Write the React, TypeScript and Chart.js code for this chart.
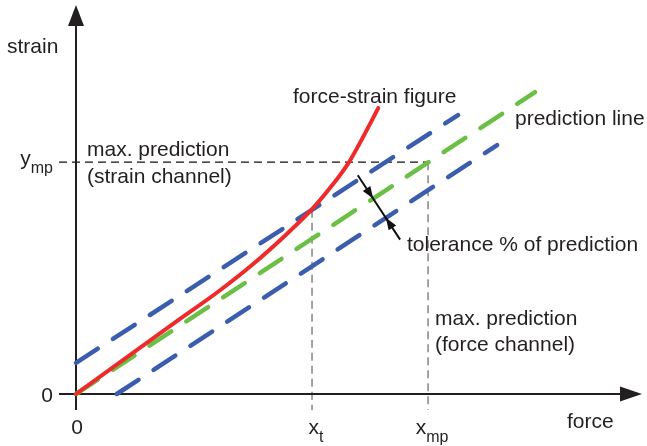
import React, { useEffect, useRef } from 'react';
import { Chart, registerables } from 'chart.js';

Chart.register(...registerables);

// ---- data (abstract units: force 0..10, strain 0..10) ----
const X_MAX = 10;
const Y_MAX = 10;

// force-strain figure (red curve)
const redX = [0, 1.77, 2.54, 3.13, 3.73, 4.17, 4.49, 4.81, 5.07, 5.34];
const redY = [0, 1.86, 2.66, 3.34, 4.12, 4.75, 5.3, 5.93, 6.6, 7.35];

// prediction line (green)
const predX = [0, 8.11];
const predY = [0, 7.76];

// tolerance band (blue)
const upperX = [0, 6.75];
const upperY = [0.8, 7.17];
const lowerX = [0.72, 7.44];
const lowerY = [0, 6.4];

// key values
const X_T = 4.17;
const X_MP = 6.22;
const Y_MP = 5.96;
const TOL_X = 5.25;

// tick labels [value, main, subscript]
const xTickValues = [0, X_T, X_MP];
const xTickMain = ['0', 'x', 'x'];
const xTickSub = ['', 't', 'mp'];
const yTickValues = [0, Y_MP];
const yTickMain = ['0', 'y'];
const yTickSub = ['', 'mp'];

// annotation texts
const notes = [
  'strain',
  'max. prediction',
  '(strain channel)',
  'force-strain figure',
  'prediction line',
  'tolerance % of prediction',
  'max. prediction',
  '(force channel)',
  'force',
];
const notePos = [
  [7, 53],
  [87, 156],
  [87, 183],
  [293, 103],
  [515, 125],
  [407, 251],
  [435, 325],
  [435, 351],
  [567, 428],
];

const RED = '#ee2a2a';
const BLUE = '#3a5dae';
const GREEN = '#6cbf45';
const INK = '#231f20';
const FONT = '"Liberation Sans", Arial, Helvetica, sans-serif';

const pts = (xs: number[], ys: number[]) => xs.map((x, i) => ({ x, y: ys[i] }));
const lineAt = (xs: number[], ys: number[], x: number) =>
  ys[0] + ((ys[1] - ys[0]) * (x - xs[0])) / (xs[1] - xs[0]);

const overlay = {
  id: 'overlay',
  beforeDatasetsDraw(chart: any) {
    const { ctx } = chart;
    const xs = chart.scales.x;
    const ys = chart.scales.y;
    const px = (v: number) => xs.getPixelForValue(v);
    const py = (v: number) => ys.getPixelForValue(v);
    const TICK_L = 17;
    const TICK_B = 16;
    ctx.save();
    // guides
    ctx.lineWidth = 1.2;
    ctx.setLineDash([8, 5]);
    ctx.strokeStyle = '#111';
    ctx.beginPath();
    ctx.moveTo(px(0) - TICK_L, py(Y_MP));
    ctx.lineTo(px(X_MP), py(Y_MP));
    ctx.stroke();
    ctx.strokeStyle = '#666';
    ctx.beginPath();
    ctx.moveTo(px(X_T), py(lineAt(upperX, upperY, X_T)));
    ctx.lineTo(px(X_T), py(0) + TICK_B);
    ctx.moveTo(px(X_MP), py(Y_MP));
    ctx.lineTo(px(X_MP), py(0) + TICK_B);
    ctx.stroke();
    ctx.setLineDash([]);
    // axes
    ctx.strokeStyle = INK;
    ctx.fillStyle = INK;
    ctx.lineWidth = 2;
    ctx.beginPath();
    ctx.moveTo(px(0) - TICK_L, py(0));
    ctx.lineTo(px(X_MAX) - 18, py(0));
    ctx.moveTo(px(0), py(0) + TICK_B);
    ctx.lineTo(px(0), py(Y_MAX) + 18);
    ctx.stroke();
    ctx.beginPath();
    ctx.moveTo(px(X_MAX), py(0));
    ctx.lineTo(px(X_MAX) - 22, py(0) - 7.5);
    ctx.lineTo(px(X_MAX) - 22, py(0) + 7.5);
    ctx.closePath();
    ctx.fill();
    ctx.beginPath();
    ctx.moveTo(px(0), py(Y_MAX));
    ctx.lineTo(px(0) - 8, py(Y_MAX) + 21);
    ctx.lineTo(px(0) + 8, py(Y_MAX) + 21);
    ctx.closePath();
    ctx.fill();
    ctx.restore();
  },
  afterDatasetsDraw(chart: any) {
    const { ctx } = chart;
    const xs = chart.scales.x;
    const ys = chart.scales.y;
    const px = (v: number) => xs.getPixelForValue(v);
    const py = (v: number) => ys.getPixelForValue(v);
    ctx.save();
    // tolerance arrow
    const g0 = { x: px(predX[0]), y: py(predY[0]) };
    const g1 = { x: px(predX[1]), y: py(predY[1]) };
    const gl = Math.hypot(g1.x - g0.x, g1.y - g0.y);
    const u = { x: (g1.x - g0.x) / gl, y: (g1.y - g0.y) / gl };
    const d = { x: -u.y, y: u.x };
    const A = { x: px(TOL_X), y: py(lineAt(predX, predY, TOL_X)) };
    const b0 = { x: px(lowerX[0]), y: py(lowerY[0]) };
    const b1 = { x: px(lowerX[1]), y: py(lowerY[1]) };
    const bd = { x: b1.x - b0.x, y: b1.y - b0.y };
    const cross = (a: any, b: any) => a.x * b.y - a.y * b.x;
    const t = cross({ x: b0.x - A.x, y: b0.y - A.y }, bd) / cross(d, bd);
    const B = { x: A.x + t * d.x, y: A.y + t * d.y };
    ctx.strokeStyle = '#111';
    ctx.fillStyle = '#111';
    ctx.lineWidth = 2;
    ctx.beginPath();
    ctx.moveTo(A.x - 28 * d.x, A.y - 28 * d.y);
    ctx.lineTo(B.x + 26 * d.x, B.y + 26 * d.y);
    ctx.stroke();
    const head = (tip: any, dir: number) => {
      const L = 12;
      const W = 4.5;
      const bx = tip.x - dir * L * d.x;
      const by = tip.y - dir * L * d.y;
      ctx.beginPath();
      ctx.moveTo(tip.x, tip.y);
      ctx.lineTo(bx + W * u.x, by + W * u.y);
      ctx.lineTo(bx - W * u.x, by - W * u.y);
      ctx.closePath();
      ctx.fill();
    };
    head(A, 1);
    head(B, -1);

    // texts
    ctx.fillStyle = INK;
    ctx.textBaseline = 'alphabetic';
    ctx.textAlign = 'left';
    const MAIN = `21px ${FONT}`;
    const SUB = `16px ${FONT}`;
    ctx.font = MAIN;
    notes.forEach((s, i) => ctx.fillText(s, notePos[i][0], notePos[i][1]));

    const measure = (m: string, s: string) => {
      ctx.font = MAIN;
      const wm = ctx.measureText(m).width;
      ctx.font = SUB;
      const ws = s ? ctx.measureText(s).width : 0;
      return [wm, ws];
    };
    const drawLabel = (m: string, s: string, left: number, base: number) => {
      const [wm] = measure(m, s);
      ctx.font = MAIN;
      ctx.fillText(m, left, base);
      if (s) {
        ctx.font = SUB;
        ctx.fillText(s, left + wm, base + 8);
      }
    };
    // x ticks
    xTickValues.forEach((v, i) => {
      const [wm, ws] = measure(xTickMain[i], xTickSub[i]);
      const w = wm + ws;
      const shift = xTickSub[i] ? 4 : 1;
      drawLabel(xTickMain[i], xTickSub[i], px(v) - w / 2 + shift, py(0) + 40);
    });
    // y ticks
    yTickValues.forEach((v, i) => {
      const [wm, ws] = measure(yTickMain[i], yTickSub[i]);
      const w = wm + ws;
      const base = yTickSub[i] ? py(v) + 3 : py(v) + 7.5;
      drawLabel(yTickMain[i], yTickSub[i], px(0) - 23 - w, base);
    });
    ctx.restore();
  },
};

export default function App() {
  const ref = useRef<HTMLCanvasElement>(null);
  useEffect(() => {
    if (!ref.current) return;
    const dash = [26, 18];
    const chart = new Chart(ref.current, {
      type: 'line',
      data: {
        datasets: [
          {
            label: 'force-strain figure',
            data: pts(redX, redY),
            borderColor: RED,
            borderWidth: 4,
            cubicInterpolationMode: 'monotone',
            borderCapStyle: 'round',
            pointRadius: 0,
            clip: false,
            order: 0,
          } as any,
          {
            label: 'prediction line',
            data: pts(predX, predY),
            borderColor: GREEN,
            borderWidth: 4.5,
            borderDash: dash,
            borderCapStyle: 'round',
            pointRadius: 0,
            clip: false,
            order: 1,
          },
          {
            label: 'upper tolerance',
            data: pts(upperX, upperY),
            borderColor: BLUE,
            borderWidth: 4.5,
            borderDash: dash,
            borderCapStyle: 'round',
            pointRadius: 0,
            clip: false,
            order: 2,
          },
          {
            label: 'lower tolerance',
            data: pts(lowerX, lowerY),
            borderColor: BLUE,
            borderWidth: 4.5,
            borderDash: dash,
            borderCapStyle: 'round',
            pointRadius: 0,
            clip: false,
            order: 3,
          },
        ],
      },
      options: {
        responsive: false,
        animation: false,
        devicePixelRatio: 1,
        layout: { padding: { left: 76, right: 5, top: 5, bottom: 52 } },
        plugins: { legend: { display: false }, tooltip: { enabled: false } },
        scales: {
          x: { type: 'linear', min: 0, max: X_MAX, display: false },
          y: { type: 'linear', min: 0, max: Y_MAX, display: false },
        },
      },
      plugins: [overlay],
    });
    return () => chart.destroy();
  }, []);
  return (
    <div style={{ position: 'absolute', left: 0, top: 0, width: 647, height: 446, background: '#fff' }}>
      <canvas ref={ref} width={647} height={446} style={{ display: 'block' }} />
    </div>
  );
}
